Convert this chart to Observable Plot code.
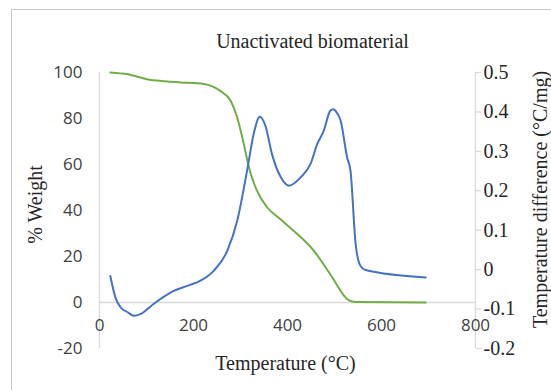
<!DOCTYPE html>
<html>
<head>
<meta charset="utf-8">
<script src="https://cdn.jsdelivr.net/npm/d3@7"></script>
<script src="https://cdn.jsdelivr.net/npm/@observablehq/plot@0.6"></script>
<style>
  html, body { margin: 0; padding: 0; background: #fff; overflow: hidden; }
  #wrap { position: relative; width: 551px; height: 390px; }
  #border { position: absolute; left: 11px; top: 9px; width: 600px; height: 500px; border: 1px solid #c8c8c8; box-sizing: border-box; }
  #chart { position: absolute; left: 0; top: 0; }
</style>
</head>
<body>
<div id="wrap"><div id="border"></div><div id="chart"></div></div>
<script>
// Weight loss curve (% Weight, left axis)
const weightTemp = [23, 60, 101, 140, 172, 222, 257, 279, 293, 307, 318, 335, 357, 385, 413, 456, 491, 530, 545, 694];
const weightPct  = [100, 99.2, 97.1, 96.2, 95.7, 95, 92, 87.7, 80.4, 68.9, 58.7, 48.6, 41.3, 36.2, 31.2, 22.5, 12.3, 1, 0.2, 0];

// Temperature difference curve (°C/mg, right axis)
const diffTemp = [23, 34, 45, 60, 73, 87, 115, 151, 187, 215, 243, 272, 293, 314, 328, 341, 353, 367, 385, 403, 428, 449, 463, 477, 491, 497, 502, 513, 527, 534, 545, 555, 566, 694];
const diffVal  = [-0.016, -0.071, -0.096, -0.108, -0.117, -0.113, -0.087, -0.058, -0.041, -0.028, -0.003, 0.048, 0.124, 0.251, 0.344, 0.388, 0.365, 0.293, 0.236, 0.213, 0.234, 0.268, 0.318, 0.352, 0.403, 0.407, 0.403, 0.378, 0.284, 0.251, 0.065, 0.01, -0.001, -0.02];

const xTicks = [0, 200, 400, 600, 800];
const leftTicks = [-20, 0, 20, 40, 60, 80, 100];
const rightTicks = [-0.2, -0.1, 0, 0.1, 0.2, 0.3, 0.4, 0.5];
const rightTickLabels = ["-0.2", "-0.1", "0", "0.1", "0.2", "0.3", "0.4", "0.5"];

const title = "Unactivated biomaterial";
const xLabel = "Temperature (°C)";
const yLeftLabel = "% Weight";
const yRightLabel = "Temperature difference (°C/mg)";

const leftDomain = [-20, 100];
const rightDomain = [-0.2, 0.5];
const toLeft = v => leftDomain[0] + (v - rightDomain[0]) * (leftDomain[1] - leftDomain[0]) / (rightDomain[1] - rightDomain[0]);

const weightData = weightTemp.map((t, i) => ({t, w: weightPct[i]}));
const diffData = diffTemp.map((t, i) => ({t, v: diffVal[i]}));
const rightPos = rightTicks.map(toLeft);
const rightLabelOf = new Map(rightPos.map((p, i) => [p, rightTickLabels[i]]));

const serif = "'Liberation Serif', 'DejaVu Serif', serif";
const sans = "'Open Sans', 'Liberation Sans', sans-serif";
const gridColor = "#d9d9d9";

const chart = Plot.plot({
  width: 551,
  height: 390,
  marginLeft: 99,
  marginRight: 76,
  marginTop: 72,
  marginBottom: 42,
  style: {background: "transparent", overflow: "visible"},
  x: {type: "linear", domain: [0, 800]},
  y: {type: "linear", domain: leftDomain},
  marks: [
    Plot.ruleY([0], {x1: 0, x2: 800, stroke: gridColor, strokeWidth: 1.3, strokeOpacity: 1}),
    Plot.ruleX([0], {y1: -20, y2: 100, stroke: gridColor, strokeWidth: 1.3, strokeOpacity: 1}),
    Plot.ruleX([800], {y1: -20, y2: 100, stroke: gridColor, strokeWidth: 1.3, strokeOpacity: 1}),
    Plot.axisY(leftTicks, {anchor: "left", tickSize: 0, tickPadding: 17, fontSize: 17, fontFamily: sans, fill: "#404040", tickFormat: d => String(d), label: null}),
    Plot.axisY(rightPos, {anchor: "right", tickSize: 5, tickPadding: 3, stroke: gridColor, strokeOpacity: 1, strokeWidth: 1.3, fontSize: 20, fontFamily: serif, fill: "#262626", tickFormat: d => rightLabelOf.get(d), label: null}),
    Plot.axisX(xTicks, {anchor: "bottom", tickSize: 0, tickPadding: 0, dy: -30, fontSize: 17, fontFamily: sans, fill: "#404040", tickFormat: d => String(d), label: null}),
    Plot.line(weightData, {x: "t", y: "w", stroke: "#70ad47", strokeWidth: 2, curve: "monotone-x"}),
    Plot.line(diffData, {x: "t", y: d => toLeft(d.v), stroke: "#4472c4", strokeWidth: 2, curve: "monotone-x"}),
    Plot.text([title], {frameAnchor: "top", textAnchor: "middle", dx: 25, dy: -31, lineAnchor: "middle", fontSize: 20, fontFamily: serif, fill: "#262626"}),
    Plot.text([xLabel], {frameAnchor: "bottom", textAnchor: "middle", dx: -2, dy: 15, lineAnchor: "middle", fontSize: 20, fontFamily: serif, fill: "#262626"}),
    Plot.text([yLeftLabel], {frameAnchor: "left", textAnchor: "middle", dx: -64, dy: -6, rotate: -90, lineAnchor: "middle", fontSize: 20, fontFamily: serif, fill: "#262626"}),
    Plot.text([yRightLabel], {frameAnchor: "right", textAnchor: "middle", dx: 65, dy: -11, rotate: -90, lineAnchor: "middle", fontSize: 20, fontFamily: serif, fill: "#262626"})
  ]
});
document.getElementById("chart").appendChild(chart);
</script>
</body>
</html>
